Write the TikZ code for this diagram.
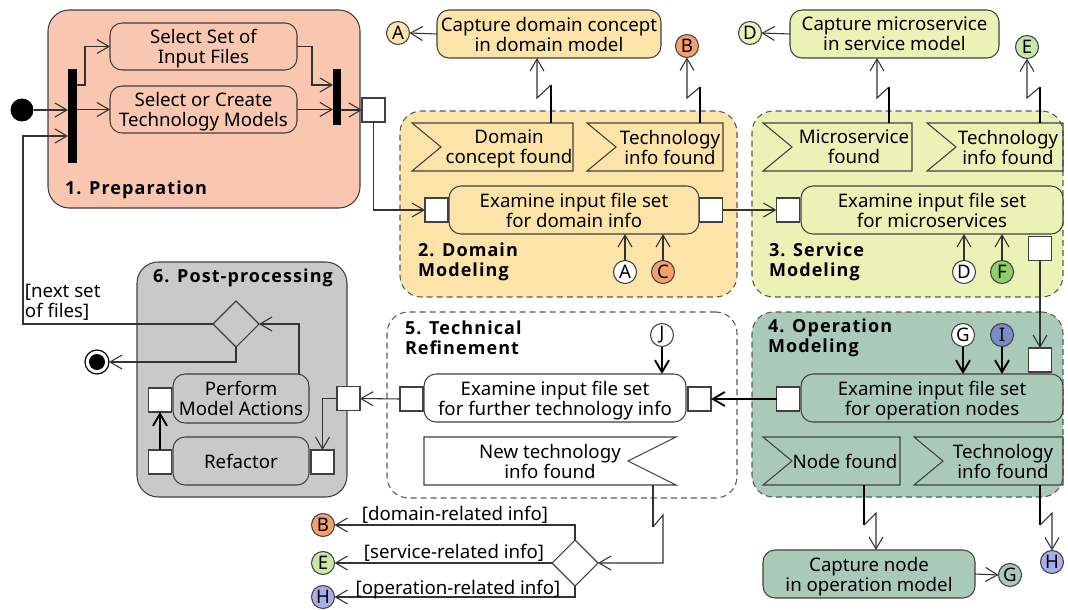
\documentclass[tikz,border=0pt]{standalone}
\usepackage{fontspec}
\setmainfont{Noto Sans}
\newfontfamily\ttlfont{Open Sans}[LetterSpace=6]
\usetikzlibrary{arrows.meta,shapes.geometric,calc}

\definecolor{prepc}{HTML}{F9C6AF}
\definecolor{domc}{HTML}{FCE3A7}
\definecolor{srvc}{HTML}{EBF2B5}
\definecolor{opc}{HTML}{A9CAB9}
\definecolor{postc}{HTML}{C9C9C9}
\definecolor{edgec}{HTML}{404040}
\definecolor{dashc}{HTML}{5A5A5A}
\definecolor{linec}{HTML}{333333}
\definecolor{orgc}{HTML}{F4A06E}
\definecolor{lgrc}{HTML}{C8E8A6}
\definecolor{grnc}{HTML}{92CC6B}
\definecolor{bluc}{HTML}{7B8BC6}
\definecolor{lbluc}{HTML}{A9AEE6}

\tikzset{
  base/.style={inner sep=0pt, outer sep=0pt},
  wh/.style 2 args={minimum width=#1*0.75pt, minimum height=#2*0.75pt},
  grp/.style={base, draw=edgec, line width=0.8pt, rounded corners=16pt},
  grpd/.style={grp, draw=dashc, dash pattern=on 4.5pt off 3pt},
  act/.style={base, draw=edgec, line width=0.8pt, rounded corners=9pt, align=center, text depth=0pt},
  pin/.style={base, draw=edgec, line width=0.8pt, fill=white, wh={23}{24}},
  bar/.style={base, fill=black},
  evt/.style={base},
  evline/.style={draw=edgec, line width=0.8pt},
  txt/.style={base, align=center, text depth=0pt},
  ttl/.style={base, align=left, anchor=west,
    font=\fontsize{13.5pt}{15pt}\ttlfont\bfseries},
  conn/.style={circle, base, draw=edgec, line width=0.8pt, minimum size=17.25pt,
    font=\fontsize{14pt}{14pt}\selectfont},
  dec/.style={diamond, aspect=1, base, draw=edgec, line width=0.8pt, wh={46}{46}},
  arr/.style={draw=linec, line width=0.8pt, -{Straight Barb[length=9pt,width=10.5pt]}},
  arrk/.style={arr, draw=black, line width=1.4pt},
  ln/.style={draw=linec, line width=0.8pt},
  lnk/.style={draw=black, line width=1.6pt},
}

\begin{document}
\begin{tikzpicture}[x=0.75pt,y=-0.75pt,font=\fontsize{14pt}{15pt}\selectfont]
\useasboundingbox (0,0) rectangle (1068,610);

% ---- swimlane groups
\node[grp, fill=prepc, wh={312}{198}] (g1) at (204,109) {};
\node[grpd, fill=domc, wh={337}{186}] (g2) at (568.5,204) {};
\node[grpd, fill=srvc, wh={311}{186}] (g3) at (907.5,204) {};
\node[grpd, fill=opc, wh={311}{185}] (g4) at (907.5,404.5) {};
\node[grpd, fill=white, wh={350}{186}] (g5) at (562,405) {};
\node[grp, fill=postc, wh={210}{235}] (g6) at (242,379.5) {};

\node[ttl] (t1) at (65,190) {1. Preparation};
\node[ttl] (t2) at (418,262) {2. Domain\\Modeling};
\node[ttl] (t3) at (769,262) {3. Service\\Modeling};
\node[ttl] (t4) at (768,338) {4. Operation\\Modeling};
\node[ttl] (t5) at (405,338) {5. Technical\\Refinement};
\node[ttl] (t6) at (153,278) {6. Post-processing};

% ---- 1. preparation
\node[circle, base, fill=black, wh={23}{23}] (init) at (22,110) {};
\node[bar, wh={9}{94}] (fork) at (72.5,116) {};
\node[bar, wh={8}{56}] (join) at (337,97) {};
\node[act, fill=prepc, wh={187}{47}] (sel) at (203.5,46.5) {Select Set of\\Input Files};
\node[act, fill=prepc, wh={187}{47}] (tech) at (203.5,109.5) {Select or Create\\Technology Models};
\node[pin] (p1) at (373.5,110) {};

% ---- 2. domain modeling
\node[act, fill=domc, wh={224}{48}] (capd) at (549,34) {Capture domain concept\\in domain model};
\node[evt, wh={161}{48}] (ev1) at (492.5,147) {};
\node[evt, wh={136}{48}] (ev2) at (655,147) {};
\node[act, fill=domc, wh={250}{48}] (exd) at (574,210) {Examine input file set\\for domain info};
\node[pin] (pdl) at (436.5,210) {};
\node[pin] (pdr) at (711,210) {};

% ---- 3. service modeling
\node[act, fill=srvc, wh={209}{48}] (caps) at (894.5,34) {Capture microservice\\in service model};
\node[evt, wh={149}{48}] (ev3) at (837.5,147) {};
\node[evt, wh={136}{48}] (ev4) at (995,147) {};
\node[act, fill=srvc, wh={262}{48}] (exs) at (932,210) {Examine input file set\\for microservices};
\node[pin] (psl) at (788,210) {};
\node[pin] (psb) at (1040,248.5) {};

% ---- 4. operation modeling
\node[act, fill=opc, wh={262}{48}] (exo) at (932,398) {Examine input file set\\for operation nodes};
\node[pin] (pol) at (788,399) {};
\node[pin] (pot) at (1040,360) {};
\node[evt, wh={137}{48}] (ev5) at (831.5,461) {};
\node[evt, wh={149}{48}] (ev6) at (988.5,461) {};
\node[act, fill=opc, wh={212}{48}] (capn) at (869,574) {Capture node\\in operation model};

% ---- 5. technical refinement
\node[act, fill=white, wh={262}{48}] (ext) at (555,398) {Examine input file set\\for further technology info};
\node[pin] (ptl) at (411.5,399) {};
\node[pin] (ptr) at (699.5,399) {};
\node[evt, wh={252}{48}] (ev7) at (550,461) {};
\node[dec, fill=white] (dtech) at (575,563) {};

% ---- 6. post-processing
\node[dec, fill=postc] (dpost) at (236,324) {};
\node[act, fill=postc, wh={136}{49}] (perf) at (241,398.5) {Perform\\Model Actions};
\node[act, fill=postc, wh={136}{48}] (refa) at (241,461) {Refactor};
\node[pin] (ppl) at (160,400) {};
\node[pin] (prl) at (160,462) {};
\node[pin] (prr) at (322.5,462) {};
\node[pin] (pout) at (348.5,398.5) {};
\node[circle, base, draw=black, line width=0.9pt, fill=white, wh={24}{24}] (fin) at (97,362) {};
\node[circle, base, fill=black, wh={16}{16}] (finin) at (97,362) {};

% ---- event shapes (accept: notch on the left; send: notch on the right)
\foreach \e in {ev1,ev2,ev3,ev4,ev5,ev6}{
  \draw[evline] (\e.north west) -- (\e.north east) -- (\e.south east) -- (\e.south west)
    -- ($(\e.west)+(29,0)$) -- cycle;
}
\draw[evline] (ev7.north west) -- (ev7.north east) -- ($(ev7.east)+(-48,0)$)
  -- (ev7.south east) -- (ev7.south west) -- cycle;
\node[txt] (ev1t) at (509,147) {Domain\\concept found};
\node[txt] (ev2t) at (670,147) {Technology\\info found};
\node[txt] (ev3t) at (854,147) {Microservice\\found};
\node[txt] (ev4t) at (1008,147) {Technology\\info found};
\node[txt] (ev5t) at (845,461) {Node found};
\node[txt] (ev6t) at (1003,461) {Technology\\info found};
\node[txt] (ev7t) at (550,461) {New technology\\info found};

% ---- connector circles
\node[conn, fill=domc] (cA1) at (398,33) {A};
\node[conn, fill=orgc] (cB1) at (687,46) {B};
\node[conn, fill=srvc] (cD1) at (750,33) {D};
\node[conn, fill=lgrc] (cE1) at (1027,47) {E};
\node[conn, fill=white] (cA2) at (625,272) {A};
\node[conn, fill=orgc] (cC) at (663,272) {C};
\node[conn, fill=white] (cD2) at (964,272) {D};
\node[conn, fill=grnc] (cF) at (1002,272) {F};
\node[conn, fill=white] (cG1) at (963,335) {G};
\node[conn, fill=bluc] (cI) at (1002,335) {I};
\node[conn, fill=white] (cJ) at (662,335) {J};
\node[conn, fill=opc] (cG2) at (1010,575) {G};
\node[conn, fill=lbluc] (cH1) at (1052,562) {H};
\node[conn, fill=orgc] (cB2) at (323,525) {B};
\node[conn, fill=lgrc] (cE2) at (323,563) {E};
\node[conn, fill=lbluc] (cH2) at (323,597) {H};

% ---- bend points
\coordinate (loopc) at (23,136);
\coordinate (fk1) at (85,85);
\coordinate (jn1) at (312,85);
\coordinate (pf1) at (299,324);
\coordinate (z1a) at (551,85);  \coordinate (z1b) at (537,98);
\coordinate (z2a) at (700,87);  \coordinate (z2b) at (687,98);
\coordinate (z3a) at (889,87);  \coordinate (z3b) at (877,98);
\coordinate (z4a) at (1040,87); \coordinate (z4b) at (1027,98);
\coordinate (z5a) at (864,525); \coordinate (z5b) at (876,513);
\coordinate (z6a) at (1040,525);\coordinate (z6b) at (1052,513);
\coordinate (z7a) at (653,527); \coordinate (z7b) at (663,515);

% ---- control flow: preparation
\draw[arr] (init.east) -- (fork.west |- init);
\draw[arr] (dpost.west) -| (loopc) -- (fork.west |- loopc);
\draw[arr] (fork.east |- fk1) -- (fk1) |- (sel.west);
\draw[arr] (fork.east |- tech.west) -- (tech.west);
\draw[arr] (sel.east) -| (jn1) -- (join.west |- jn1);
\draw[arr] (tech.east) -- (join.west |- tech.east);
\draw[arr] (join.east |- p1) -- (p1.west);
\draw[arr] (p1.south) |- (pdl.west);

% ---- domain / service / operation
\draw[arr] (pdr.east) -- (psl.west);
\draw[arr] (psb.south) -- (pot.north);
\draw[arrk] (pol.west) -- (ptr.east);
\draw[arr] (capd.west) -- (cA1.east);
\draw[arr] (caps.west) -- (cD1.east);
\draw[arr] (capn.east) -- (cG2.west);
\draw[arr] (cA2.north) -- (cA2.north |- exd.south);
\draw[arr] (cC.north) -- (cC.north |- exd.south);
\draw[arr] (cD2.north) -- (cD2.north |- exs.south);
\draw[arr] (cF.north) -- (cF.north |- exs.south);
\draw[arrk] (cG1.south) -- (cG1.south |- exo.north);
\draw[arrk] (cI.south) -- (cI.south |- exo.north);
\draw[arrk] (cJ.south) -- (cJ.south |- ext.north);

% ---- interrupting edges
\draw[lnk] (ev1.north -| z1a) -- (z1a);
\draw[arr] (z1a) -- (z1b) -- (capd.south -| z1b);
\draw[lnk] (ev2.north -| z2a) -- (z2a);
\draw[arr] (z2a) -- (z2b) -- (cB1.south);
\draw[lnk] (ev3.north -| z3a) -- (z3a);
\draw[arr] (z3a) -- (z3b) -- (caps.south -| z3b);
\draw[lnk] (ev4.north -| z4a) -- (z4a);
\draw[arr] (z4a) -- (z4b) -- (cE1.south);
\draw[lnk] (ev5.south -| z5a) -- (z5a);
\draw[arr] (z5a) -- (z5b) -- (capn.north -| z5b);
\draw[lnk] (ev6.south -| z6a) -- (z6a);
\draw[arr] (z6a) -- (z6b) -- (cH1.north);
\draw[ln] (ev7.south -| z7a) -- (z7a);
\draw[arr] (z7a) -- (z7b) |- (dtech.east);

% ---- technical refinement branches
\draw[arr] (dtech.north) |- (cB2.east);
\draw[arr] (dtech.west) -- (cE2.east);
\draw[arr] (dtech.south) |- (cH2.east);
\node[txt] (lb1) at (455,513) {[domain-related info]};
\node[txt] (lb2) at (454,551) {[service-related info]};
\node[txt] (lb3) at (458,587) {[operation-related info]};

% ---- post-processing
\draw[arr] (ptl.west) -- (pout.east);
\draw[arr] (pout.west) -| (prr.north);
\draw[arrk] (prl.north) -- (ppl.south);
\draw[arr] (perf.north -| pf1) -- (pf1) -- (dpost.east);
\draw[arr] (dpost.south) |- (fin.east);
\node[txt, align=left, anchor=west] (lbn) at (25,301) {[next set\\of files]};

\end{tikzpicture}
\end{document}
